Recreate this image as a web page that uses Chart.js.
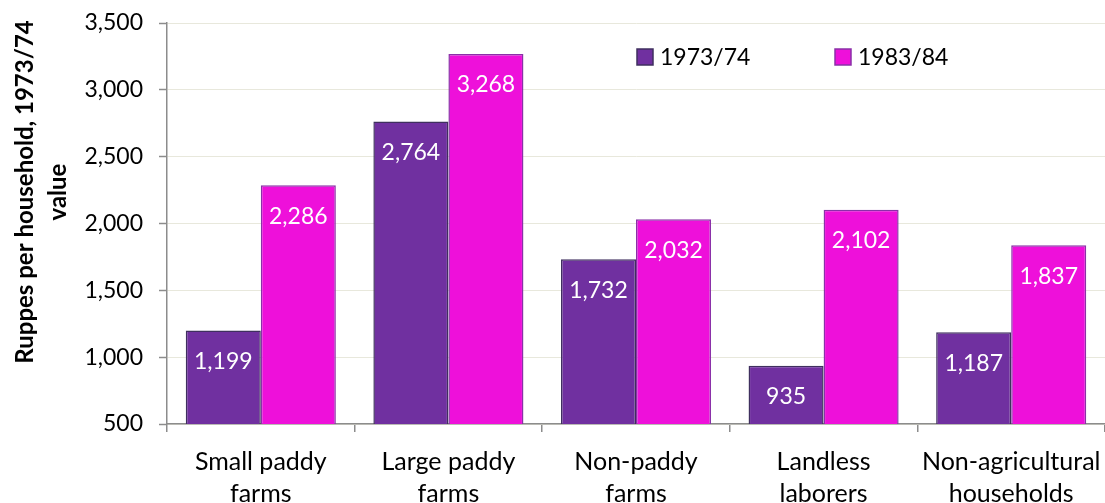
<!DOCTYPE html>
<html>
<head>
<meta charset="utf-8">
<script src="https://cdn.jsdelivr.net/npm/chart.js@4.4.1/dist/chart.umd.min.js"></script>
<style>
html,body{margin:0;padding:0;background:#fff;}
#wrap{width:1105px;height:503px;position:relative;}
</style>
</head>
<body>
<div id="wrap"><canvas id="c" width="1105" height="503"></canvas></div>
<script>
const categories = [["Small paddy","farms"],["Large paddy","farms"],["Non-paddy","farms"],["Landless","laborers"],["Non-agricultural","households"]];
const seriesNames = ["1973/74","1983/84"];
const values1973 = [1199, 2764, 1732, 935, 1187];
const values1983 = [2286, 3268, 2032, 2102, 1837];
const yTitleLines = ["Ruppes per household, 1973/74","value"];

const FONT = "Lato, 'Open Sans', sans-serif";

const valueLabels = {
  id: 'valueLabels',
  afterDatasetsDraw(chart) {
    const ctx = chart.ctx;
    ctx.save();
    ctx.font = "23px " + FONT;
    ctx.fillStyle = "#ffffff";
    ctx.textAlign = "center";
    ctx.textBaseline = "middle";
    chart.data.datasets.forEach((ds, di) => {
      chart.getDatasetMeta(di).data.forEach((bar, i) => {
        ctx.fillText(ds.data[i].toLocaleString('en-US'), bar.x, bar.y + 31);
      });
    });
    ctx.restore();
  }
};

const customLegend = {
  id: 'customLegend',
  afterDraw(chart) {
    const ctx = chart.ctx;
    const xs = [637, 835];
    const y = 57;
    ctx.save();
    ctx.font = "23px " + FONT;
    ctx.textBaseline = "middle";
    ctx.textAlign = "left";
    chart.data.datasets.forEach((ds, i) => {
      ctx.fillStyle = ds.backgroundColor;
      ctx.fillRect(xs[i], y - 8, 16, 16);
      ctx.strokeStyle = ds.borderColor;
      ctx.lineWidth = 1.5;
      ctx.strokeRect(xs[i], y - 8, 16, 16);
      ctx.fillStyle = "#000000";
      ctx.fillText(ds.label, xs[i] + 23, y + 1);
    });
    ctx.restore();
  }
};

const yTitle = {
  id: 'yTitle',
  afterDraw(chart) {
    const ctx = chart.ctx;
    ctx.save();
    ctx.font = "bold 24px " + FONT;
    ctx.fillStyle = "#000000";
    ctx.textAlign = "center";
    ctx.textBaseline = "middle";
    const xs = [25, 58];
    yTitleLines.forEach((t, i) => {
      ctx.save();
      ctx.translate(xs[i], 192);
      ctx.rotate(-Math.PI / 2);
      ctx.fillText(t, 0, 0);
      ctx.restore();
    });
    ctx.restore();
  }
};

new Chart(document.getElementById('c'), {
  type: 'bar',
  data: {
    labels: categories,
    datasets: [
      { label: seriesNames[0], data: values1973, backgroundColor: '#7030A0', borderColor: '#3F2F5F', borderWidth: 1.5, borderSkipped: 'bottom' },
      { label: seriesNames[1], data: values1983, backgroundColor: '#EE10DA', borderColor: '#8A30A8', borderWidth: 1.5, borderSkipped: 'bottom' }
    ]
  },
  options: {
    responsive: false,
    animation: false,
    layout: { padding: { left: 0, right: 0, top: 23, bottom: 0 } },
    datasets: { bar: { categoryPercentage: 0.8, barPercentage: 1.0 } },
    plugins: { legend: { display: false }, tooltip: { enabled: false } },
    scales: {
      x: {
        offset: true,
        grid: { display: true, offset: true, drawOnChartArea: false, drawTicks: true, tickLength: 8, color: '#8c8c8c', lineWidth: 1.5 },
        border: { color: '#8c8c8c', width: 1.5 },
        ticks: { font: { family: FONT, size: 25, lineHeight: 1.28 }, color: '#000000', padding: 14, maxRotation: 0, autoSkip: false },
        afterFit(s) { s.height = 79; s.paddingLeft = 0; s.paddingRight = 0; }
      },
      y: {
        min: 500, max: 3500,
        ticks: { stepSize: 500, font: { family: FONT, size: 23 }, color: '#000000', padding: 16,
          callback: v => v.toLocaleString('en-US') },
        grid: { color: '#e8e8dc', lineWidth: 1, tickLength: 8, tickColor: '#8c8c8c', tickWidth: 1.5 },
        border: { color: '#8c8c8c', width: 1.5 },
        afterFit(s) { s.width = 167; s.paddingTop = 0; s.paddingBottom = 0; }
      }
    }
  },
  plugins: [valueLabels, customLegend, yTitle]
});
</script>
</body>
</html>
